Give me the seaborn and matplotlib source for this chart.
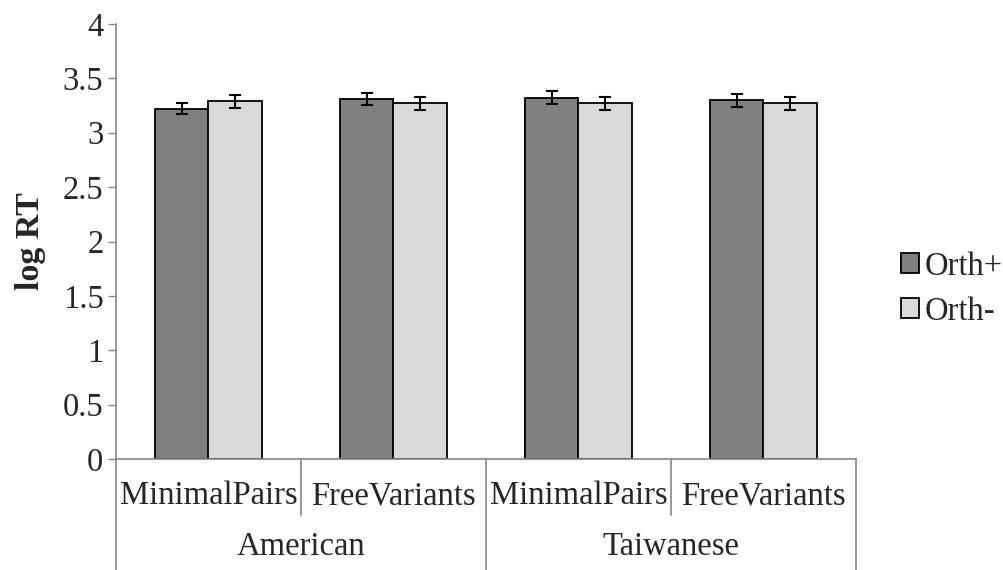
import numpy as np
import pandas as pd
import matplotlib
matplotlib.use("Agg")
import matplotlib.pyplot as plt
import seaborn as sns
from matplotlib.patches import Patch

# Mean log reaction times by listener group, item type and orthography condition
groups = ["American", "American", "Taiwanese", "Taiwanese"]
item_types = ["MinimalPairs", "FreeVariants", "MinimalPairs", "FreeVariants"]
conditions = ["Orth+", "Orth-"]
orth_plus = [3.22, 3.31, 3.32, 3.30]
orth_minus = [3.29, 3.27, 3.27, 3.27]
err_plus = [0.05, 0.055, 0.06, 0.06]
err_minus = [0.058, 0.058, 0.057, 0.06]
y_ticks = [0, 0.5, 1, 1.5, 2, 2.5, 3, 3.5, 4]

sns.set_theme(style="white")
plt.rcParams["font.family"] = ["Liberation Serif", "DejaVu Serif"]
FS = 23.5

keys = [f"{g} {t}" for g, t in zip(groups, item_types)]
df = pd.DataFrame({
    "key": keys * 2,
    "cond": [conditions[0]] * 4 + [conditions[1]] * 4,
    "rt": orth_plus + orth_minus,
})

fig = plt.figure(figsize=(10.04, 5.70), dpi=100)
ax = fig.add_axes([116 / 1004, 1 - 459 / 570, 740 / 1004, 435 / 570])

palette = {"Orth+": "#808080", "Orth-": "#d9d9d9"}
sns.barplot(data=df, x="key", y="rt", hue="cond", order=keys,
            hue_order=conditions, palette=palette, width=0.575, gap=0,
            errorbar=None, edgecolor="black", linewidth=1.3, ax=ax,
            legend=False)

# error bars centred on each bar
for cont, vals, errs in zip(ax.containers, [orth_plus, orth_minus],
                            [err_plus, err_minus]):
    xs = [b.get_x() + b.get_width() / 2 for b in cont]
    ax.errorbar(xs, vals, yerr=errs, fmt="none", ecolor="black",
                elinewidth=1.5, capsize=4.3, capthick=1.5, zorder=5)

ax.set_ylim(0, 4)
ax.set_xlim(-0.5, 3.5)
ax.set_yticks(y_ticks)
ax.set_yticklabels([f"{v:g}" for v in y_ticks])
ax.set_xticks(range(4))
ax.set_xticklabels([])
ax.tick_params(axis="y", which="both", direction="out", length=6,
               width=1, color="#868686", labelsize=FS, pad=3, left=True)
ax.tick_params(axis="x", length=0)

for side in ["top", "right"]:
    ax.spines[side].set_visible(False)
for side in ["left", "bottom"]:
    ax.spines[side].set_color("#868686")
    ax.spines[side].set_linewidth(1.2)

ax.set_xlabel("")
ax.set_ylabel("log RT", fontsize=FS + 1, fontweight="bold", labelpad=12)

# two-level category axis
trans = ax.get_xaxis_transform()
for i, t in enumerate(item_types):
    ax.text(i, -0.085, t, transform=trans, ha="center", va="center",
            fontsize=FS)
for j, g in enumerate(["American", "Taiwanese"]):
    ax.text(2 * j + 0.5, -0.202, g, transform=trans, ha="center",
            va="center", fontsize=FS)
for xb in [-0.5, 0.5, 1.5, 2.5, 3.5]:
    low = -0.255 if xb in (-0.5, 1.5, 3.5) else -0.129
    ax.plot([xb, xb], [0, low], transform=trans, color="#868686",
            lw=1.2, clip_on=False)

handles = [Patch(facecolor=palette[c], edgecolor="black", linewidth=1.3)
           for c in conditions]
fig.legend(handles, conditions, loc="center left",
           bbox_to_anchor=(0.897, 0.493), frameon=False, fontsize=FS,
           handlelength=0.55, handleheight=0.55, handletextpad=0.2,
           labelspacing=0.45, borderpad=0, borderaxespad=0)

fig.savefig("out.png", dpi=100)
